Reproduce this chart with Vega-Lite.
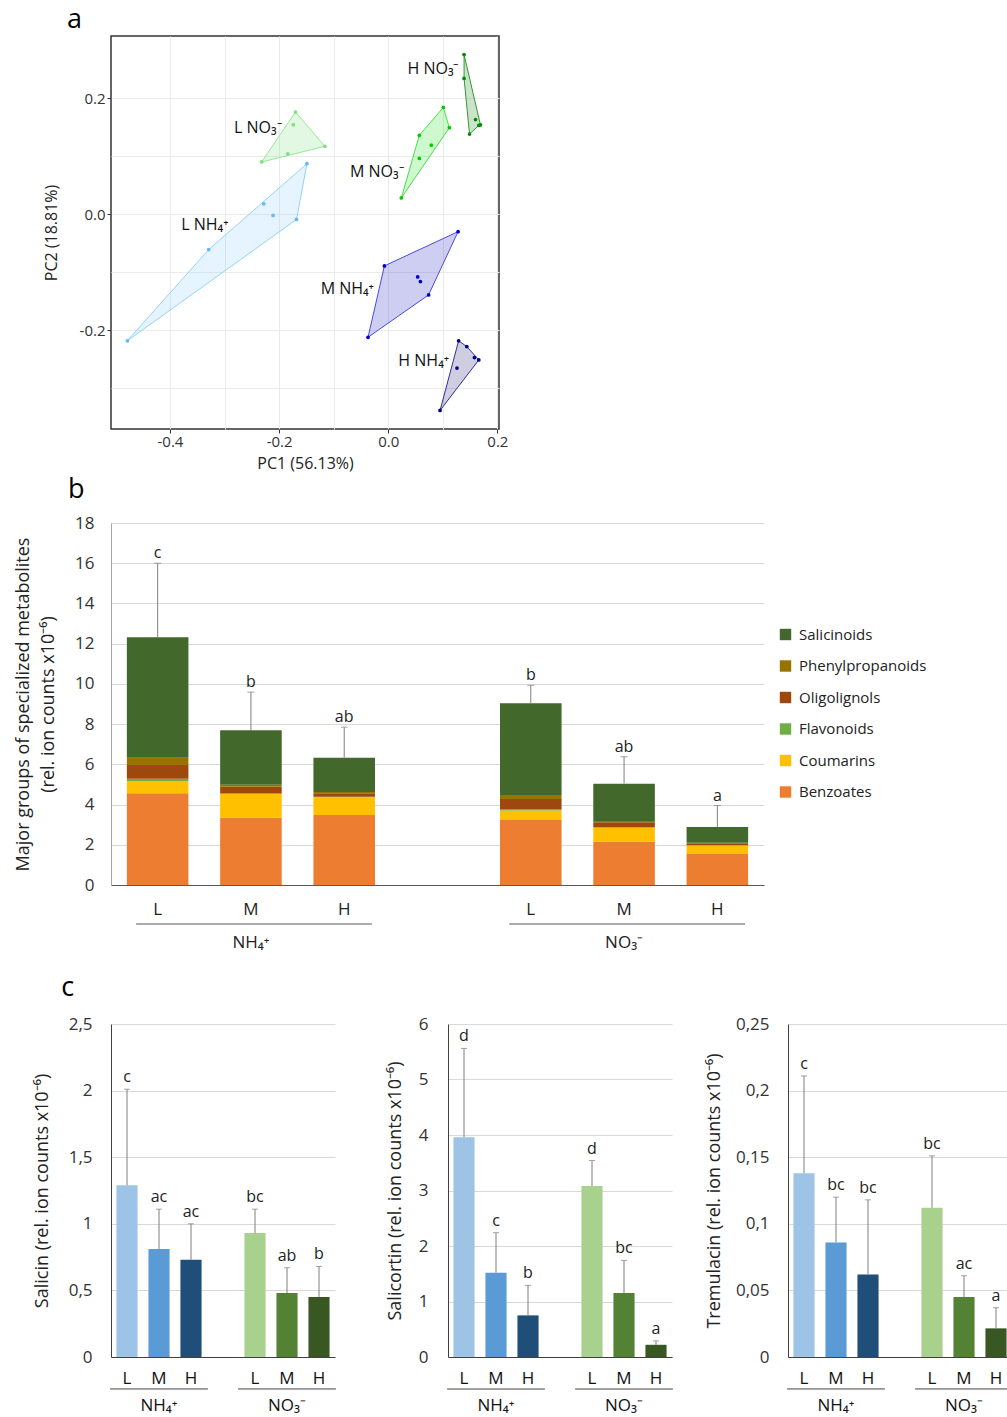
{
  "$schema": "https://vega.github.io/schema/vega-lite/v6.json",
  "background": "white",
  "padding": {"left": 14, "top": 5, "right": 0, "bottom": 0},
  "config": {
    "font": "Open Sans",
    "view": {"stroke": null},
    "axis": {"labelColor": "#333333", "titleColor": "#222222", "titleFontWeight": "normal"},
    "title": {"fontWeight": "normal", "color": "#000000"}
  },
  "resolve": {"scale": {"color": "independent", "fill": "independent", "stroke": "independent"}, "legend": {"color": "independent"}},
  "datasets": {
    "pts": [
      {"grp": "L NH4", "pc1": -0.478, "pc2": -0.218},
      {"grp": "L NH4", "pc1": -0.329, "pc2": -0.061},
      {"grp": "L NH4", "pc1": -0.228, "pc2": 0.018},
      {"grp": "L NH4", "pc1": -0.211, "pc2": -0.002},
      {"grp": "L NH4", "pc1": -0.168, "pc2": -0.009},
      {"grp": "L NH4", "pc1": -0.149, "pc2": 0.087},
      {"grp": "L NO3", "pc1": -0.232, "pc2": 0.090},
      {"grp": "L NO3", "pc1": -0.184, "pc2": 0.104},
      {"grp": "L NO3", "pc1": -0.174, "pc2": 0.154},
      {"grp": "L NO3", "pc1": -0.170, "pc2": 0.176},
      {"grp": "L NO3", "pc1": -0.116, "pc2": 0.117},
      {"grp": "M NO3", "pc1": 0.024, "pc2": 0.028},
      {"grp": "M NO3", "pc1": 0.057, "pc2": 0.096},
      {"grp": "M NO3", "pc1": 0.057, "pc2": 0.136},
      {"grp": "M NO3", "pc1": 0.079, "pc2": 0.119},
      {"grp": "M NO3", "pc1": 0.101, "pc2": 0.184},
      {"grp": "M NO3", "pc1": 0.112, "pc2": 0.149},
      {"grp": "H NO3", "pc1": 0.139, "pc2": 0.275},
      {"grp": "H NO3", "pc1": 0.139, "pc2": 0.234},
      {"grp": "H NO3", "pc1": 0.149, "pc2": 0.138},
      {"grp": "H NO3", "pc1": 0.160, "pc2": 0.163},
      {"grp": "H NO3", "pc1": 0.166, "pc2": 0.153},
      {"grp": "H NO3", "pc1": 0.169, "pc2": 0.154},
      {"grp": "M NH4", "pc1": -0.037, "pc2": -0.212},
      {"grp": "M NH4", "pc1": -0.007, "pc2": -0.089},
      {"grp": "M NH4", "pc1": 0.054, "pc2": -0.108},
      {"grp": "M NH4", "pc1": 0.059, "pc2": -0.116},
      {"grp": "M NH4", "pc1": 0.074, "pc2": -0.139},
      {"grp": "M NH4", "pc1": 0.128, "pc2": -0.030},
      {"grp": "H NH4", "pc1": 0.095, "pc2": -0.338},
      {"grp": "H NH4", "pc1": 0.126, "pc2": -0.265},
      {"grp": "H NH4", "pc1": 0.129, "pc2": -0.218},
      {"grp": "H NH4", "pc1": 0.144, "pc2": -0.228},
      {"grp": "H NH4", "pc1": 0.158, "pc2": -0.247},
      {"grp": "H NH4", "pc1": 0.166, "pc2": -0.251}
    ],
    "hull": [
      {"grp": "L NH4", "v": 1, "pc1": -0.478, "pc2": -0.218},
      {"grp": "L NH4", "v": 2, "pc1": -0.329, "pc2": -0.061},
      {"grp": "L NH4", "v": 3, "pc1": -0.149, "pc2": 0.087},
      {"grp": "L NH4", "v": 4, "pc1": -0.168, "pc2": -0.009},
      {"grp": "L NH4", "v": 5, "pc1": -0.478, "pc2": -0.218},
      {"grp": "L NO3", "v": 1, "pc1": -0.232, "pc2": 0.090},
      {"grp": "L NO3", "v": 2, "pc1": -0.170, "pc2": 0.176},
      {"grp": "L NO3", "v": 3, "pc1": -0.116, "pc2": 0.117},
      {"grp": "L NO3", "v": 4, "pc1": -0.232, "pc2": 0.090},
      {"grp": "M NO3", "v": 1, "pc1": 0.024, "pc2": 0.028},
      {"grp": "M NO3", "v": 2, "pc1": 0.057, "pc2": 0.136},
      {"grp": "M NO3", "v": 3, "pc1": 0.101, "pc2": 0.184},
      {"grp": "M NO3", "v": 4, "pc1": 0.112, "pc2": 0.149},
      {"grp": "M NO3", "v": 5, "pc1": 0.024, "pc2": 0.028},
      {"grp": "H NO3", "v": 1, "pc1": 0.139, "pc2": 0.275},
      {"grp": "H NO3", "v": 2, "pc1": 0.169, "pc2": 0.154},
      {"grp": "H NO3", "v": 3, "pc1": 0.166, "pc2": 0.153},
      {"grp": "H NO3", "v": 4, "pc1": 0.149, "pc2": 0.138},
      {"grp": "H NO3", "v": 5, "pc1": 0.139, "pc2": 0.234},
      {"grp": "H NO3", "v": 6, "pc1": 0.139, "pc2": 0.275},
      {"grp": "M NH4", "v": 1, "pc1": -0.037, "pc2": -0.212},
      {"grp": "M NH4", "v": 2, "pc1": -0.007, "pc2": -0.089},
      {"grp": "M NH4", "v": 3, "pc1": 0.128, "pc2": -0.030},
      {"grp": "M NH4", "v": 4, "pc1": 0.074, "pc2": -0.139},
      {"grp": "M NH4", "v": 5, "pc1": -0.037, "pc2": -0.212},
      {"grp": "H NH4", "v": 1, "pc1": 0.095, "pc2": -0.338},
      {"grp": "H NH4", "v": 2, "pc1": 0.129, "pc2": -0.218},
      {"grp": "H NH4", "v": 3, "pc1": 0.144, "pc2": -0.228},
      {"grp": "H NH4", "v": 4, "pc1": 0.166, "pc2": -0.251},
      {"grp": "H NH4", "v": 5, "pc1": 0.095, "pc2": -0.338}
    ],
    "lbl": [
      {"label": "H NO₃⁻", "pc1": 0.082, "pc2": 0.251},
      {"label": "L NO₃⁻", "pc1": -0.239, "pc2": 0.149},
      {"label": "M NO₃⁻", "pc1": -0.021, "pc2": 0.072},
      {"label": "L NH₄⁺", "pc1": -0.336, "pc2": -0.019},
      {"label": "M NH₄⁺", "pc1": -0.075, "pc2": -0.128},
      {"label": "H NH₄⁺", "pc1": 0.065, "pc2": -0.253}
    ],
    "segs": [
      {"cond": "NH4 L", "cls": "Benzoates", "k": 1, "val": 4.56},
      {"cond": "NH4 L", "cls": "Coumarins", "k": 2, "val": 0.61},
      {"cond": "NH4 L", "cls": "Flavonoids", "k": 3, "val": 0.11},
      {"cond": "NH4 L", "cls": "Oligolignols", "k": 4, "val": 0.69},
      {"cond": "NH4 L", "cls": "Phenylpropanoids", "k": 5, "val": 0.36},
      {"cond": "NH4 L", "cls": "Salicinoids", "k": 6, "val": 5.99},
      {"cond": "NH4 M", "cls": "Benzoates", "k": 1, "val": 3.35},
      {"cond": "NH4 M", "cls": "Coumarins", "k": 2, "val": 1.18},
      {"cond": "NH4 M", "cls": "Flavonoids", "k": 3, "val": 0.03},
      {"cond": "NH4 M", "cls": "Oligolignols", "k": 4, "val": 0.33},
      {"cond": "NH4 M", "cls": "Phenylpropanoids", "k": 5, "val": 0.10},
      {"cond": "NH4 M", "cls": "Salicinoids", "k": 6, "val": 2.71},
      {"cond": "NH4 H", "cls": "Benzoates", "k": 1, "val": 3.48},
      {"cond": "NH4 H", "cls": "Coumarins", "k": 2, "val": 0.88},
      {"cond": "NH4 H", "cls": "Flavonoids", "k": 3, "val": 0.03},
      {"cond": "NH4 H", "cls": "Oligolignols", "k": 4, "val": 0.17},
      {"cond": "NH4 H", "cls": "Phenylpropanoids", "k": 5, "val": 0.06},
      {"cond": "NH4 H", "cls": "Salicinoids", "k": 6, "val": 1.71},
      {"cond": "NO3 L", "cls": "Benzoates", "k": 1, "val": 3.23},
      {"cond": "NO3 L", "cls": "Coumarins", "k": 2, "val": 0.47},
      {"cond": "NO3 L", "cls": "Flavonoids", "k": 3, "val": 0.05},
      {"cond": "NO3 L", "cls": "Oligolignols", "k": 4, "val": 0.53},
      {"cond": "NO3 L", "cls": "Phenylpropanoids", "k": 5, "val": 0.20},
      {"cond": "NO3 L", "cls": "Salicinoids", "k": 6, "val": 4.56},
      {"cond": "NO3 M", "cls": "Benzoates", "k": 1, "val": 2.15},
      {"cond": "NO3 M", "cls": "Coumarins", "k": 2, "val": 0.70},
      {"cond": "NO3 M", "cls": "Flavonoids", "k": 3, "val": 0.02},
      {"cond": "NO3 M", "cls": "Oligolignols", "k": 4, "val": 0.25},
      {"cond": "NO3 M", "cls": "Phenylpropanoids", "k": 5, "val": 0.06},
      {"cond": "NO3 M", "cls": "Salicinoids", "k": 6, "val": 1.86},
      {"cond": "NO3 H", "cls": "Benzoates", "k": 1, "val": 1.54},
      {"cond": "NO3 H", "cls": "Coumarins", "k": 2, "val": 0.42},
      {"cond": "NO3 H", "cls": "Flavonoids", "k": 3, "val": 0.02},
      {"cond": "NO3 H", "cls": "Oligolignols", "k": 4, "val": 0.09},
      {"cond": "NO3 H", "cls": "Phenylpropanoids", "k": 5, "val": 0.03},
      {"cond": "NO3 H", "cls": "Salicinoids", "k": 6, "val": 0.79}
    ],
    "tot": [
      {"cond": "NH4 L", "total": 12.32, "err": 16.0, "letter": "c"},
      {"cond": "NH4 M", "total": 7.70, "err": 9.59, "letter": "b"},
      {"cond": "NH4 H", "total": 6.33, "err": 7.85, "letter": "ab"},
      {"cond": "NO3 L", "total": 9.04, "err": 9.93, "letter": "b"},
      {"cond": "NO3 M", "total": 5.04, "err": 6.38, "letter": "ab"},
      {"cond": "NO3 H", "total": 2.89, "err": 3.95, "letter": "a"}
    ],
    "grp": [
      {"g": "NH₄⁺", "first": "NH4 L", "mid": "NH4 M", "last": "NH4 H"},
      {"g": "NO₃⁻", "first": "NO3 L", "mid": "NO3 M", "last": "NO3 H"}
    ],
    "sal": [
      {"cond": "NH4 L", "val": 1.29, "err": 2.01, "letter": "c"},
      {"cond": "NH4 M", "val": 0.81, "err": 1.11, "letter": "ac"},
      {"cond": "NH4 H", "val": 0.73, "err": 1.00, "letter": "ac"},
      {"cond": "NO3 L", "val": 0.93, "err": 1.11, "letter": "bc"},
      {"cond": "NO3 M", "val": 0.48, "err": 0.67, "letter": "ab"},
      {"cond": "NO3 H", "val": 0.45, "err": 0.68, "letter": "b"}
    ],
    "salc": [
      {"cond": "NH4 L", "val": 3.96, "err": 5.56, "letter": "d"},
      {"cond": "NH4 M", "val": 1.52, "err": 2.24, "letter": "c"},
      {"cond": "NH4 H", "val": 0.75, "err": 1.29, "letter": "b"},
      {"cond": "NO3 L", "val": 3.08, "err": 3.54, "letter": "d"},
      {"cond": "NO3 M", "val": 1.155, "err": 1.74, "letter": "bc"},
      {"cond": "NO3 H", "val": 0.22, "err": 0.29, "letter": "a"}
    ],
    "trem": [
      {"cond": "NH4 L", "val": 0.138, "err": 0.211, "letter": "c"},
      {"cond": "NH4 M", "val": 0.086, "err": 0.120, "letter": "bc"},
      {"cond": "NH4 H", "val": 0.062, "err": 0.118, "letter": "bc"},
      {"cond": "NO3 L", "val": 0.112, "err": 0.151, "letter": "bc"},
      {"cond": "NO3 M", "val": 0.045, "err": 0.061, "letter": "ac"},
      {"cond": "NO3 H", "val": 0.0215, "err": 0.037, "letter": "a"}
    ]
  },
  "spacing": 22,
  "vconcat": [
    {
      "spacing": 4,
      "resolve": {"scale": {"color": "independent", "fill": "independent", "stroke": "independent"}, "legend": {"color": "independent"}},
      "vconcat": [
        {
          "title": {"text": "a", "anchor": "start", "frame": "group", "fontSize": 27, "dx": -44, "offset": 2},
          "width": 388,
          "height": 393,
          "view": {"stroke": "#333333", "strokeWidth": 1.5},
          "layer": [
            {
              "data": {"name": "hull"},
              "mark": {"type": "line", "fillOpacity": 0.22, "strokeWidth": 1, "strokeOpacity": 0.9},
              "encoding": {
                "x": {"field": "pc1", "type": "quantitative",
                  "scale": {"domain": [-0.508, 0.203], "nice": false, "zero": false},
                  "axis": {"title": "PC1 (56.13%)", "values": [-0.4, -0.3, -0.2, -0.1, 0, 0.1, 0.2],
                    "labelExpr": "abs(round(datum.value*10)) % 2 == 0 ? replace(format(datum.value, '.1f'), '−', '-') : ''",
                    "tickOpacity": {"condition": {"test": "abs(round(datum.value*10)) % 2 == 0", "value": 1}, "value": 0},
                    "grid": true, "gridColor": "#ebebeb", "domain": false, "tickColor": "#333333", "tickSize": 4,
                    "labelFontSize": 15, "labelPadding": 1, "titleFontSize": 16, "titlePadding": 6}},
                "y": {"field": "pc2", "type": "quantitative",
                  "scale": {"domain": [-0.37, 0.307], "nice": false, "zero": false},
                  "axis": {"title": "PC2 (18.81%)", "values": [-0.3, -0.2, -0.1, 0, 0.1, 0.2],
                    "labelExpr": "abs(round(datum.value*10)) % 2 == 0 ? replace(format(datum.value, '.1f'), '−', '-') : ''",
                    "tickOpacity": {"condition": {"test": "abs(round(datum.value*10)) % 2 == 0", "value": 1}, "value": 0},
                    "grid": true, "gridColor": "#ebebeb", "domain": false, "tickColor": "#333333", "tickSize": 4,
                    "labelFontSize": 15, "labelPadding": 2, "titleFontSize": 16, "titlePadding": 20}},
                "order": {"field": "v", "type": "quantitative"},
                "stroke": {"field": "grp", "type": "nominal",
                  "scale": {"domain": ["L NH4", "M NH4", "H NH4", "L NO3", "M NO3", "H NO3"],
                    "range": ["#87cefa", "#3a3ad6", "#1e1e8c", "#8ee68e", "#33dd33", "#1f8f1f"]}, "legend": null},
                "fill": {"field": "grp", "type": "nominal",
                  "scale": {"domain": ["L NH4", "M NH4", "H NH4", "L NO3", "M NO3", "H NO3"],
                    "range": ["#87cefa", "#2020c8", "#202070", "#7ee07e", "#22dd22", "#108010"]}, "legend": null}
              }
            },
            {
              "data": {"name": "pts"},
              "mark": {"type": "circle", "size": 14, "opacity": 1},
              "encoding": {
                "x": {"field": "pc1", "type": "quantitative"},
                "y": {"field": "pc2", "type": "quantitative"},
                "color": {"field": "grp", "type": "nominal",
                  "scale": {"domain": ["L NH4", "M NH4", "H NH4", "L NO3", "M NO3", "H NO3"],
                    "range": ["#63b8ff", "#0000cd", "#00008b", "#7ee07e", "#00cc00", "#008b00"]}, "legend": null}
              }
            },
            {
              "data": {"name": "lbl"},
              "mark": {"type": "text", "fontSize": 16, "color": "#111111", "align": "center", "baseline": "middle"},
              "encoding": {
                "x": {"field": "pc1", "type": "quantitative"},
                "y": {"field": "pc2", "type": "quantitative"},
                "text": {"field": "label"}
              }
            }
          ]
        },
        {
          "title": {"text": "b", "anchor": "start", "frame": "group", "fontSize": 27, "dx": -43, "offset": 10},
          "width": 653,
          "height": 362,
          "layer": [
            {
              "data": {"name": "segs"},
              "mark": {"type": "bar"},
              "encoding": {
                "x": {"field": "cond", "type": "nominal",
                  "scale": {"domain": ["NH4 L", "NH4 M", "NH4 H", "gap", "NO3 L", "NO3 M", "NO3 H"], "paddingInner": 0.34, "paddingOuter": 0.17},
                  "axis": {"title": null, "labelExpr": "datum.value == 'gap' ? '' : slice(datum.value, -1)", "labelAngle": 0,
                    "ticks": false, "domainColor": "#595959", "domainWidth": 1.2, "labelFontSize": 17, "labelPadding": 16, "labelColor": "#222222"}},
                "y": {"field": "val", "type": "quantitative", "stack": "zero",
                  "scale": {"domain": [0, 18], "nice": false},
                  "axis": {"title": ["Major groups of specialized metabolites", "(rel. ion counts  x10⁻⁶)"],
                    "values": [0, 2, 4, 6, 8, 10, 12, 14, 16, 18], "ticks": false, "domainColor": "#a6a6a6",
                    "gridColor": "#d9d9d9", "labelFontSize": 17, "labelPadding": 17, "titleFontSize": 18, "titlePadding": 17, "titleLineHeight": 25}},
                "color": {"field": "cls", "type": "nominal",
                  "scale": {"domain": ["Salicinoids", "Phenylpropanoids", "Oligolignols", "Flavonoids", "Coumarins", "Benzoates"],
                    "range": ["#43682b", "#997300", "#9e480e", "#70ad47", "#ffc000", "#ed7d31"]},
                  "legend": {"title": null, "orient": "none", "legendX": 667, "legendY": 104, "symbolType": "square", "symbolSize": 130,
                    "symbolStrokeWidth": 0, "labelFontSize": 15, "rowPadding": 15.5, "labelOffset": 6, "labelColor": "#222222"}},
                "order": {"field": "k", "type": "quantitative"}
              }
            },
            {
              "data": {"name": "tot"},
              "mark": {"type": "rule", "color": "#7f7f7f", "strokeWidth": 1},
              "encoding": {
                "x": {"field": "cond", "type": "nominal"},
                "y": {"field": "total", "type": "quantitative"},
                "y2": {"field": "err"}
              }
            },
            {
              "data": {"name": "tot"},
              "mark": {"type": "tick", "color": "#7f7f7f", "thickness": 1, "size": 7},
              "encoding": {
                "x": {"field": "cond", "type": "nominal"},
                "y": {"field": "err", "type": "quantitative"}
              }
            },
            {
              "data": {"name": "tot"},
              "mark": {"type": "text", "fontSize": 16, "baseline": "bottom", "dy": -2, "color": "#222222"},
              "encoding": {
                "x": {"field": "cond", "type": "nominal"},
                "y": {"field": "err", "type": "quantitative"},
                "text": {"field": "letter"}
              }
            },
            {
              "data": {"name": "grp"},
              "mark": {"type": "rule", "color": "#595959", "strokeWidth": 1},
              "encoding": {
                "x": {"field": "first", "type": "nominal", "bandPosition": 0.15},
                "x2": {"field": "last", "bandPosition": 0.95},
                "y": {"datum": -1.94, "type": "quantitative"}
              }
            },
            {
              "data": {"name": "grp"},
              "mark": {"type": "text", "fontSize": 17, "baseline": "middle", "color": "#222222"},
              "encoding": {
                "x": {"field": "mid", "type": "nominal"},
                "y": {"datum": -2.9, "type": "quantitative"},
                "text": {"field": "g"}
              }
            }
          ]
        }
      ]
    },
    {
      "title": {"text": "c", "anchor": "start", "frame": "bounds", "fontSize": 27, "dx": 28, "offset": 13},
      "spacing": 49,
      "hconcat": [
        {
          "width": 224,
          "height": 333,
          "layer": [
            {
              "data": {"name": "sal"},
              "mark": {"type": "bar"},
              "encoding": {
                "x": {"field": "cond", "type": "nominal",
                  "scale": {"domain": ["NH4 L", "NH4 M", "NH4 H", "gap", "NO3 L", "NO3 M", "NO3 H"], "paddingInner": 0.34, "paddingOuter": 0.17},
                  "axis": {"title": null, "labelExpr": "datum.value == 'gap' ? '' : slice(datum.value, -1)", "labelAngle": 0,
                    "ticks": false, "domainColor": "#404040", "domainWidth": 1.2, "labelFontSize": 17, "labelPadding": 13, "labelColor": "#111111"}},
                "y": {"field": "val", "type": "quantitative",
                  "scale": {"domain": [0, 2.5], "nice": false},
                  "axis": {"title": "Salicin (rel. ion counts  x10⁻⁶)", "values": [0, 0.5, 1, 1.5, 2, 2.5],
                    "labelExpr": "replace(format(datum.value, '~g'), '.', ',')",
                    "ticks": false, "domainColor": "#404040", "gridColor": "#d9d9d9", "labelFontSize": 17, "labelPadding": 19,
                    "titleFontSize": 18, "titlePadding": 17}},
                "color": {"field": "cond", "type": "nominal",
                  "scale": {"domain": ["NH4 L", "NH4 M", "NH4 H", "NO3 L", "NO3 M", "NO3 H"],
                    "range": ["#9dc3e6", "#5b9bd5", "#1f4e79", "#a9d18e", "#548235", "#385723"]}, "legend": null}
              }
            },
            {
              "data": {"name": "sal"},
              "mark": {"type": "rule", "color": "#7f7f7f", "strokeWidth": 1},
              "encoding": {
                "x": {"field": "cond", "type": "nominal"},
                "y": {"field": "val", "type": "quantitative"},
                "y2": {"field": "err"}
              }
            },
            {
              "data": {"name": "sal"},
              "mark": {"type": "tick", "color": "#7f7f7f", "thickness": 1, "size": 6},
              "encoding": {
                "x": {"field": "cond", "type": "nominal"},
                "y": {"field": "err", "type": "quantitative"}
              }
            },
            {
              "data": {"name": "sal"},
              "mark": {"type": "text", "fontSize": 16, "baseline": "bottom", "dy": -4, "color": "#222222"},
              "encoding": {
                "x": {"field": "cond", "type": "nominal"},
                "y": {"field": "err", "type": "quantitative"},
                "text": {"field": "letter"}
              }
            },
            {
              "data": {"name": "grp"},
              "mark": {"type": "rule", "color": "#404040", "strokeWidth": 1},
              "encoding": {
                "x": {"field": "first", "type": "nominal", "bandPosition": -0.3},
                "x2": {"field": "last", "bandPosition": 1.3},
                "y": {"datum": -0.24, "type": "quantitative"}
              }
            },
            {
              "data": {"name": "grp"},
              "mark": {"type": "text", "fontSize": 17, "baseline": "middle", "color": "#111111"},
              "encoding": {
                "x": {"field": "mid", "type": "nominal"},
                "y": {"datum": -0.365, "type": "quantitative"},
                "text": {"field": "g"}
              }
            }
          ]
        },
        {
          "spacing": 31,
          "hconcat": [
            {
              "width": 224,
              "height": 333,
              "layer": [
                {
                  "data": {"name": "salc"},
                  "mark": {"type": "bar"},
                  "encoding": {
                    "x": {"field": "cond", "type": "nominal",
                      "scale": {"domain": ["NH4 L", "NH4 M", "NH4 H", "gap", "NO3 L", "NO3 M", "NO3 H"], "paddingInner": 0.34, "paddingOuter": 0.17},
                      "axis": {"title": null, "labelExpr": "datum.value == 'gap' ? '' : slice(datum.value, -1)", "labelAngle": 0,
                        "ticks": false, "domainColor": "#404040", "domainWidth": 1.2, "labelFontSize": 17, "labelPadding": 13, "labelColor": "#111111"}},
                    "y": {"field": "val", "type": "quantitative",
                      "scale": {"domain": [0, 6], "nice": false},
                      "axis": {"title": "Salicortin  (rel. ion counts  x10⁻⁶)", "values": [0, 1, 2, 3, 4, 5, 6], "format": "d",
                        "ticks": false, "domainColor": "#404040", "gridColor": "#d9d9d9", "labelFontSize": 17, "labelPadding": 20,
                        "titleFontSize": 18, "titlePadding": 14}},
                    "color": {"field": "cond", "type": "nominal",
                      "scale": {"domain": ["NH4 L", "NH4 M", "NH4 H", "NO3 L", "NO3 M", "NO3 H"],
                        "range": ["#9dc3e6", "#5b9bd5", "#1f4e79", "#a9d18e", "#548235", "#385723"]}, "legend": null}
                  }
                },
                {
                  "data": {"name": "salc"},
                  "mark": {"type": "rule", "color": "#7f7f7f", "strokeWidth": 1},
                  "encoding": {
                    "x": {"field": "cond", "type": "nominal"},
                    "y": {"field": "val", "type": "quantitative"},
                    "y2": {"field": "err"}
                  }
                },
                {
                  "data": {"name": "salc"},
                  "mark": {"type": "tick", "color": "#7f7f7f", "thickness": 1, "size": 6},
                  "encoding": {
                    "x": {"field": "cond", "type": "nominal"},
                    "y": {"field": "err", "type": "quantitative"}
                  }
                },
                {
                  "data": {"name": "salc"},
                  "mark": {"type": "text", "fontSize": 16, "baseline": "bottom", "dy": -4, "color": "#222222"},
                  "encoding": {
                    "x": {"field": "cond", "type": "nominal"},
                    "y": {"field": "err", "type": "quantitative"},
                    "text": {"field": "letter"}
                  }
                },
                {
                  "data": {"name": "grp"},
                  "mark": {"type": "rule", "color": "#404040", "strokeWidth": 1},
                  "encoding": {
                    "x": {"field": "first", "type": "nominal", "bandPosition": -0.3},
                    "x2": {"field": "last", "bandPosition": 1.3},
                    "y": {"datum": -0.577, "type": "quantitative"}
                  }
                },
                {
                  "data": {"name": "grp"},
                  "mark": {"type": "text", "fontSize": 17, "baseline": "middle", "color": "#111111"},
                  "encoding": {
                    "x": {"field": "mid", "type": "nominal"},
                    "y": {"datum": -0.875, "type": "quantitative"},
                    "text": {"field": "g"}
                  }
                }
              ]
            },
            {
              "width": 224,
              "height": 333,
              "layer": [
                {
                  "data": {"name": "trem"},
                  "mark": {"type": "bar"},
                  "encoding": {
                    "x": {"field": "cond", "type": "nominal",
                      "scale": {"domain": ["NH4 L", "NH4 M", "NH4 H", "gap", "NO3 L", "NO3 M", "NO3 H"], "paddingInner": 0.34, "paddingOuter": 0.17},
                      "axis": {"title": null, "labelExpr": "datum.value == 'gap' ? '' : slice(datum.value, -1)", "labelAngle": 0,
                        "ticks": false, "domainColor": "#404040", "domainWidth": 1.2, "labelFontSize": 17, "labelPadding": 13, "labelColor": "#111111"}},
                    "y": {"field": "val", "type": "quantitative",
                      "scale": {"domain": [0, 0.25], "nice": false},
                      "axis": {"title": "Tremulacin (rel. ion counts  x10⁻⁶)", "values": [0, 0.05, 0.1, 0.15, 0.2, 0.25],
                        "labelExpr": "replace(format(datum.value, '~g'), '.', ',')",
                        "ticks": false, "domainColor": "#404040", "gridColor": "#d9d9d9", "labelFontSize": 17, "labelPadding": 19,
                        "titleFontSize": 18, "titlePadding": 12}},
                    "color": {"field": "cond", "type": "nominal",
                      "scale": {"domain": ["NH4 L", "NH4 M", "NH4 H", "NO3 L", "NO3 M", "NO3 H"],
                        "range": ["#9dc3e6", "#5b9bd5", "#1f4e79", "#a9d18e", "#548235", "#385723"]}, "legend": null}
                  }
                },
                {
                  "data": {"name": "trem"},
                  "mark": {"type": "rule", "color": "#7f7f7f", "strokeWidth": 1},
                  "encoding": {
                    "x": {"field": "cond", "type": "nominal"},
                    "y": {"field": "val", "type": "quantitative"},
                    "y2": {"field": "err"}
                  }
                },
                {
                  "data": {"name": "trem"},
                  "mark": {"type": "tick", "color": "#7f7f7f", "thickness": 1, "size": 6},
                  "encoding": {
                    "x": {"field": "cond", "type": "nominal"},
                    "y": {"field": "err", "type": "quantitative"}
                  }
                },
                {
                  "data": {"name": "trem"},
                  "mark": {"type": "text", "fontSize": 16, "baseline": "bottom", "dy": -4, "color": "#222222"},
                  "encoding": {
                    "x": {"field": "cond", "type": "nominal"},
                    "y": {"field": "err", "type": "quantitative"},
                    "text": {"field": "letter"}
                  }
                },
                {
                  "data": {"name": "grp"},
                  "mark": {"type": "rule", "color": "#404040", "strokeWidth": 1},
                  "encoding": {
                    "x": {"field": "first", "type": "nominal", "bandPosition": -0.3},
                    "x2": {"field": "last", "bandPosition": 1.3},
                    "y": {"datum": -0.024, "type": "quantitative"}
                  }
                },
                {
                  "data": {"name": "grp"},
                  "mark": {"type": "text", "fontSize": 17, "baseline": "middle", "color": "#111111"},
                  "encoding": {
                    "x": {"field": "mid", "type": "nominal"},
                    "y": {"datum": -0.0365, "type": "quantitative"},
                    "text": {"field": "g"}
                  }
                }
              ]
            }
          ]
        }
      ]
    }
  ]
}
